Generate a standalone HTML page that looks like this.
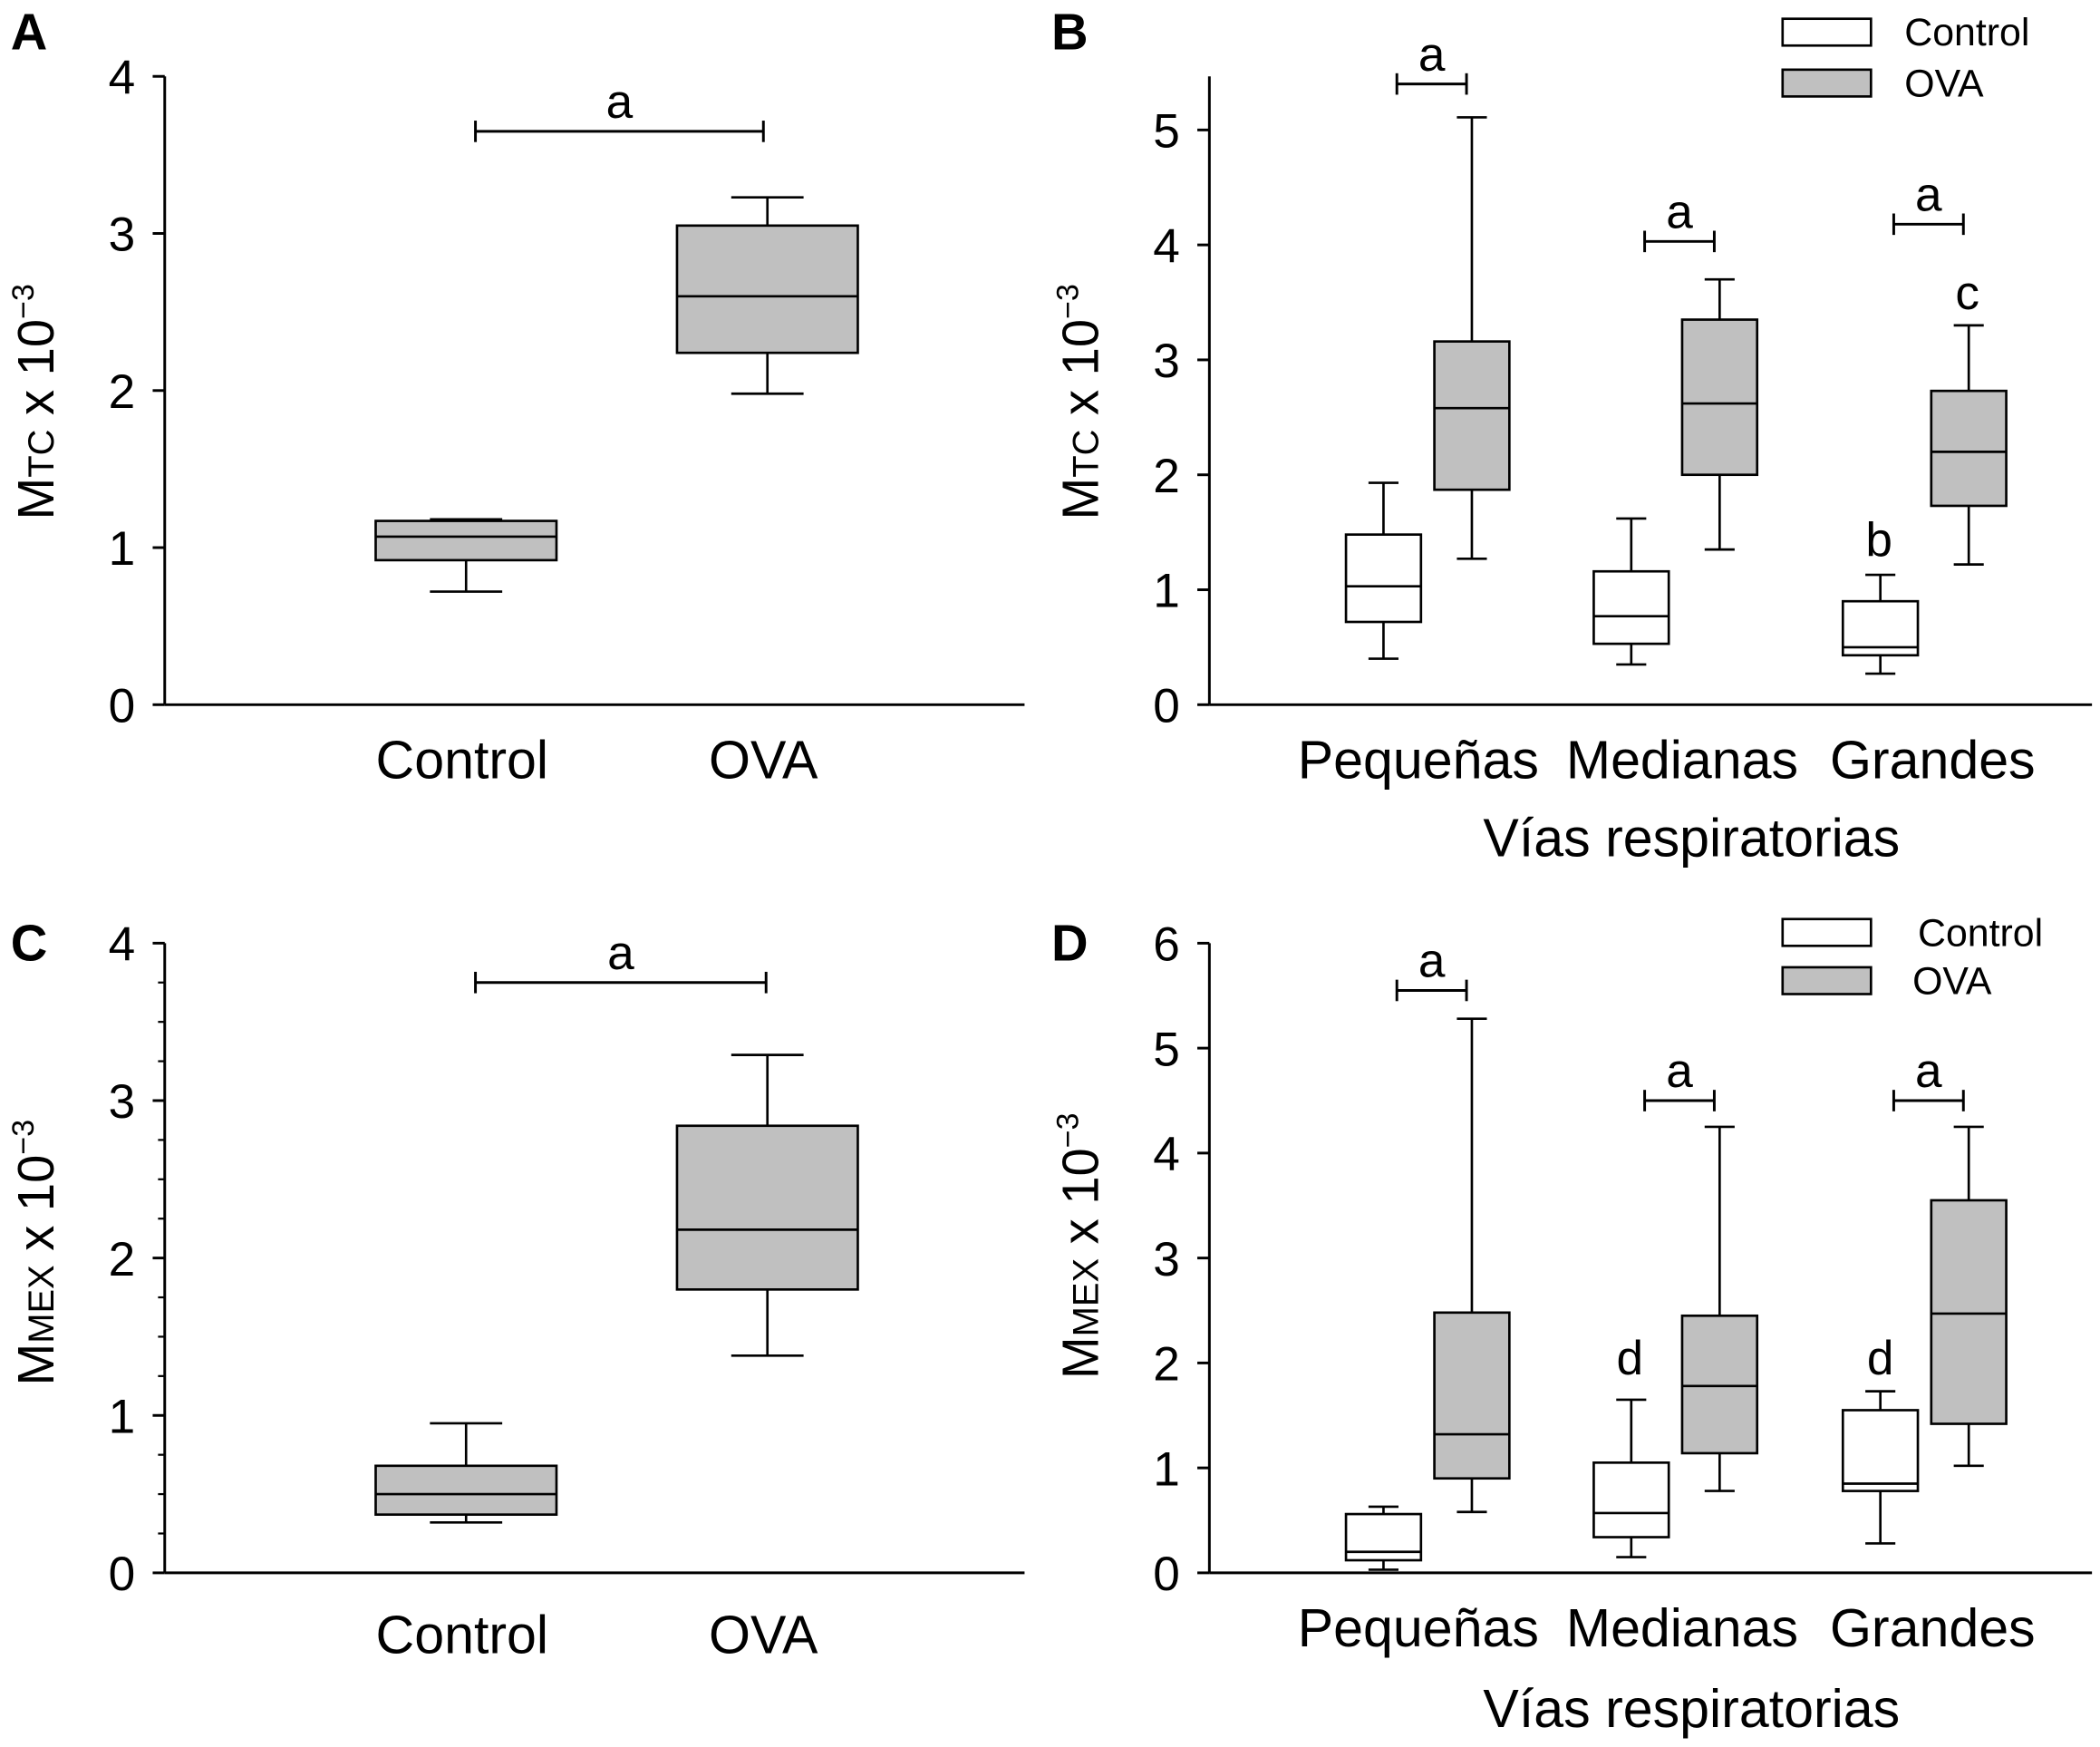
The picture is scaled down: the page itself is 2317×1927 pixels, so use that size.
<!DOCTYPE html>
<html><head><meta charset="utf-8"><style>
html,body{margin:0;padding:0;background:#fff;}
svg{display:block;font-family:"Liberation Sans",Arial,sans-serif;}
</style></head><body>
<svg id="fig" width="2317" height="1927" viewBox="0 0 1568 1304" preserveAspectRatio="none" xmlns="http://www.w3.org/2000/svg"></svg>
<script>
// Panel A
const aCategories = ["Control","OVA"];
const aStats = [[0.72,0.92,1.07,1.17,1.18],[1.98,2.24,2.60,3.05,3.23]];
const aTicks = [0,1,2,3,4];
// Panel B
const bCategories = ["Pequeñas","Medianas","Grandes"];
const bControl = [[0.40,0.72,1.03,1.48,1.93],[0.35,0.53,0.77,1.16,1.62],[0.27,0.43,0.50,0.90,1.13]];
const bOVA = [[1.27,1.87,2.58,3.16,5.11],[1.35,2.00,2.62,3.35,3.70],[1.22,1.73,2.20,2.73,3.30]];
const bTicks = [0,1,2,3,4,5];
const bSigY = [5.40,4.03,4.18];
// Panel C
const cCategories = ["Control","OVA"];
const cStats = [[0.32,0.37,0.50,0.68,0.95],[1.38,1.80,2.18,2.84,3.29]];
const cTicks = [0,1,2,3,4];
// Panel D
const dCategories = ["Pequeñas","Medianas","Grandes"];
const dControl = [[0.03,0.12,0.20,0.56,0.63],[0.15,0.34,0.57,1.05,1.65],[0.28,0.78,0.85,1.55,1.73]];
const dOVA = [[0.58,0.90,1.32,2.48,5.28],[0.78,1.14,1.78,2.45,4.25],[1.02,1.42,2.47,3.55,4.25]];
const dTicks = [0,1,2,3,4,5,6];
const dSigY = [5.55,4.50,4.50];

const svg = document.getElementById('fig');
const NS = "http://www.w3.org/2000/svg";
function mk(tag, attrs, parent){const e=document.createElementNS(NS,tag);for(const k in attrs)e.setAttribute(k,attrs[k]);(parent||svg).appendChild(e);return e;}
function txt(s,x,y,size,anchor,parent,weight){const t=mk('text',{x:x,y:y,'font-size':size,'text-anchor':anchor||'middle','font-weight':weight||'normal',fill:'#000'},parent);t.textContent=s;return t;}

function axes(g, x0, y0, x1, yTop, ticks, yScale, minor){
  const ax=mk('line',{x1:x0,y1:y0,x2:x0,y2:yTop,stroke:'#000','stroke-width':2},g);
  
  
  const bx=mk('line',{x1:x0,y1:y0,x2:x1,y2:y0,stroke:'#000','stroke-width':2},g);
  
  
  ticks.forEach(v=>{const y=yScale(v);
    mk('line',{x1:x0-9,y1:y,x2:x0,y2:y,stroke:'#000','stroke-width':2},g);
    const t=txt(String(v),x0-22,y+13,36,'end',g);
    
    
  });
  if(minor){for(let i=0;i<ticks.length-1;i++){for(let k=1;k<4;k++){const y=yScale(ticks[i]+k*(ticks[i+1]-ticks[i])/4);mk('line',{x1:x0-5,y1:y,x2:x0,y2:y,stroke:'#000','stroke-width':1.5},g);}}}
}
function box(g, cx, w, s, yScale, fill, name){
  const b=mk('g',{},g);
  
  
  const cap=w*0.4;
  mk('line',{x1:cx,y1:yScale(s[0]),x2:cx,y2:yScale(s[1]),stroke:'#000','stroke-width':1.8},b);
  mk('line',{x1:cx,y1:yScale(s[3]),x2:cx,y2:yScale(s[4]),stroke:'#000','stroke-width':1.8},b);
  mk('line',{x1:cx-cap/2,y1:yScale(s[0]),x2:cx+cap/2,y2:yScale(s[0]),stroke:'#000','stroke-width':1.8},b);
  mk('line',{x1:cx-cap/2,y1:yScale(s[4]),x2:cx+cap/2,y2:yScale(s[4]),stroke:'#000','stroke-width':1.8},b);
  mk('rect',{x:cx-w/2,y:yScale(s[3]),width:w,height:yScale(s[1])-yScale(s[3]),fill:fill,stroke:'#000','stroke-width':1.8},b);
  mk('line',{x1:cx-w/2,y1:yScale(s[2]),x2:cx+w/2,y2:yScale(s[2]),stroke:'#000','stroke-width':1.8},b);
}
function sig(g, xa, xb, y, label){
  const s=mk('g',{},g);
  
  
  mk('line',{x1:xa,y1:y,x2:xb,y2:y,stroke:'#000','stroke-width':2},s);
  mk('line',{x1:xa,y1:y-8,x2:xa,y2:y+8,stroke:'#000','stroke-width':2},s);
  mk('line',{x1:xb,y1:y-8,x2:xb,y2:y+8,stroke:'#000','stroke-width':2},s);
  txt(label,(xa+xb)/2,y-10,36,'middle',s);
}
function ytitle(g,x,y,sub){
  const t=mk('text',{transform:`translate(${x},${y}) rotate(-90)`,'text-anchor':'middle','font-size':38,fill:'#000'},g);
  
  
  t.innerHTML=`M<tspan font-size="27">${sub}</tspan> x 10<tspan font-size="23" dy="-15">−3</tspan>`;
}
function panelLetter(s,x,y){const t=txt(s,x,y,38,'start',svg,'bold');}
function legend(g,x,y1,y2,tx1,tx2){
  const l=mk('g',{},g);
  
  
  mk('rect',{x:x,y:y1,width:66,height:20,fill:'#fff',stroke:'#000','stroke-width':1.8},l);
  mk('rect',{x:x,y:y2,width:66,height:20,fill:'#c0c0c0',stroke:'#000','stroke-width':1.8},l);
  txt('Control',tx1,y1+20,29,'start',l);
  txt('OVA',tx2,y2+20,29,'start',l);
}

// ---- Panel A
(function(){
  const g=mk('g',{});  
  const y=v=>526-v*117.25; const xs=[348,573];
  axes(g,123,526,765,57,aTicks,y,false);
  aCategories.forEach((c,i)=>{box(g,xs[i],135,aStats[i],y,'#c0c0c0','box-'+c.toLowerCase());const t=txt(c,xs[i]-3,581,40,'middle',g);});
  sig(g,355,570,y(3.65),'a');
  ytitle(g,40,300,'TC');
})();
// ---- Panel C
(function(){
  const g=mk('g',{});  
  const y=v=>1174-v*117.5; const xs=[348,573];
  axes(g,123,1174,765,704,cTicks,y,true);
  cCategories.forEach((c,i)=>{box(g,xs[i],135,cStats[i],y,'#c0c0c0','box-'+c.toLowerCase());const t=txt(c,xs[i]-3,1234,40,'middle',g);});
  sig(g,355,572,y(3.75),'a');
  ytitle(g,40,935,'MEX');
})();
// ---- Panel B
(function(){
  const g=mk('g',{});  
  const y=v=>526-v*85.8; const gx=[1066,1251,1437];
  axes(g,903,526,1562,57,bTicks,y,false);
  const lx=[1059,1256,1443];
  bCategories.forEach((c,i)=>{
    box(g,gx[i]-33,56,bControl[i],y,'#fff','box-control-'+i);
    box(g,gx[i]+33,56,bOVA[i],y,'#c0c0c0','box-ova-'+i);
    sig(g,gx[i]-23,gx[i]+29,y(bSigY[i]),'a');
    const t=txt(c,lx[i],581,40,'middle',g);
  });
  txt('b',1403,y(bControl[2][4])-14,36,'middle',g);
  txt('c',1469,y(bOVA[2][4])-12,36,'middle',g);
  const xt=txt('Vías respiratorias',1263,639,40,'middle',g);
  ytitle(g,820,300,'TC');
  legend(g,1331,14,52,1422,1422);
})();
// ---- Panel D
(function(){
  const g=mk('g',{});  
  const y=v=>1174-v*78.33; const gx=[1066,1251,1437];
  axes(g,903,1174,1562,704,dTicks,y,false);
  const lx=[1059,1256,1443];
  dCategories.forEach((c,i)=>{
    box(g,gx[i]-33,56,dControl[i],y,'#fff','box-control-'+i);
    box(g,gx[i]+33,56,dOVA[i],y,'#c0c0c0','box-ova-'+i);
    sig(g,gx[i]-23,gx[i]+29,y(dSigY[i]),'a');
    const t=txt(c,lx[i],1229,40,'middle',g);
  });
  txt('d',1217,1026,36,'middle',g);
  txt('d',1404,1026,36,'middle',g);
  const xt=txt('Vías respiratorias',1263,1289,40,'middle',g);
  ytitle(g,820,930,'MEX');
  legend(g,1331,686,722,1432,1428);
})();
panelLetter('A',8,37);
panelLetter('B',785,37);
panelLetter('C',8,717);
panelLetter('D',785,717);
</script>
</body></html>
